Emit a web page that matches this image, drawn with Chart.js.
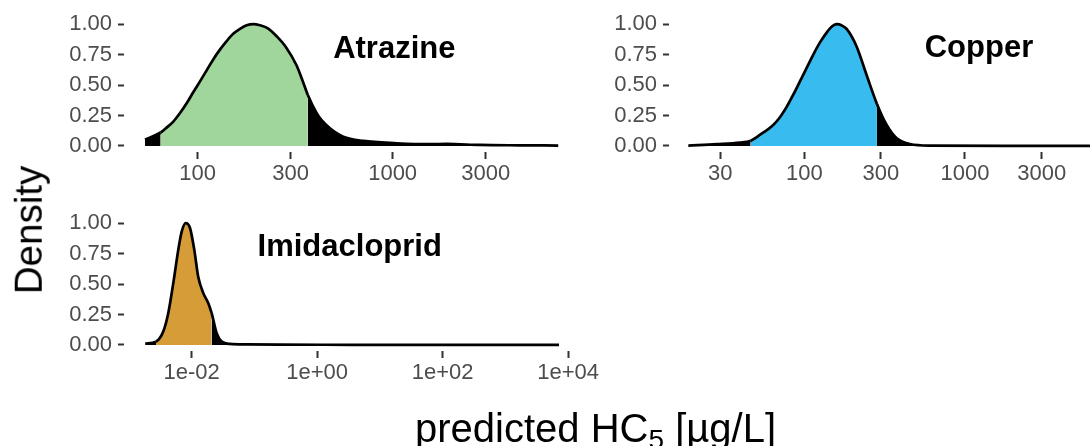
<!DOCTYPE html>
<html>
<head>
<meta charset="utf-8">
<title>predicted HC5 densities</title>
<script src="https://cdn.jsdelivr.net/npm/chart.js@4.4.1/dist/chart.umd.min.js"></script>
<style>
  html, body { margin: 0; padding: 0; background: #fff; overflow: hidden; }
  #wrap { position: relative; width: 1090px; height: 446px; overflow: hidden; }
  #wrap canvas { position: absolute; left: 0; top: 0; }
  .axtitle { position: absolute; font-family: "Liberation Sans", Arial, sans-serif; color: #000; white-space: nowrap; line-height: 1; }
  #ylab { font-size: 38.5px; left: 29px; top: 230px; transform: translate(-50%, -50%) rotate(-90deg); }
  #xlab { font-size: 40px; left: 415px; top: 408px; }
  #xlab sub { font-size: 28px; vertical-align: -0.25em; line-height: 0; }
</style>
</head>
<body>
<div id="wrap">
  <canvas id="atrazine" width="1200" height="446"></canvas>
  <canvas id="copper" width="1200" height="446"></canvas>
  <canvas id="imidacloprid" width="1200" height="446"></canvas>
  <div class="axtitle" id="ylab">Density</div>
  <div class="axtitle" id="xlab">predicted HC<sub>5</sub> [µg/L]</div>
</div>
<script>
// values (x in µg/L, density scaled to max 1)
var atrazineX = [53.7, 64.6, 69.3, 75, 81.2, 87.8, 94.9, 102.8, 111.2, 120.2, 130.1, 140.8, 152.2, 164.8, 178.4, 192.9, 208.7, 229.1, 254.2, 282.7, 320.8, 342.6, 367.4, 407.7, 430.9, 477, 558, 707, 1048, 1554, 1892, 2804, 4497, 7067];
var atrazineDensity = [0.05, 0.11, 0.15, 0.2, 0.27, 0.35, 0.44, 0.53, 0.62, 0.71, 0.79, 0.86, 0.92, 0.96, 0.99, 1.0, 0.99, 0.965, 0.9, 0.814, 0.664, 0.55, 0.418, 0.268, 0.213, 0.145, 0.076, 0.041, 0.022, 0.014, 0.016, 0.008, 0.005, 0.003];
var atrazineBand = [64.6, 367.4];

var copperX = [19, 28.5, 39.8, 46.4, 52.9, 64.1, 70.6, 77.7, 85.4, 94, 103.5, 113.8, 125.3, 137.8, 144.6, 152, 160.4, 170.3, 183.5, 211.9, 244.5, 283.3, 325.6, 376, 455, 606, 1900, 7500];
var copperDensity = [0.003, 0.014, 0.027, 0.043, 0.09, 0.172, 0.235, 0.32, 0.42, 0.53, 0.64, 0.75, 0.85, 0.93, 0.965, 0.99, 1.0, 0.99, 0.96, 0.814, 0.58, 0.345, 0.172, 0.063, 0.016, 0.003, 0.001, 0.0];
var copperBand = [46.4, 283.3];

var imidaX = [0.00182, 0.0027, 0.00352, 0.00423, 0.00509, 0.00611, 0.00693, 0.00802, 0.0094, 0.011, 0.0127, 0.0153, 0.0184, 0.0208, 0.025, 0.0301, 0.0408, 0.075, 0.255, 3.33, 131, 7130];
var imidaDensity = [0.01, 0.027, 0.11, 0.26, 0.507, 0.78, 0.93, 1.0, 0.96, 0.78, 0.56, 0.425, 0.343, 0.26, 0.096, 0.027, 0.008, 0.004, 0.002, 0.001, 0.0005, 0.0005];
var imidaBand = [0.0027, 0.0208];

var yTicks = [0, 0.25, 0.5, 0.75, 1];
var yTickLabels = ['0.00', '0.25', '0.50', '0.75', '1.00'];
var atrazineTicks = [100, 300, 1000, 3000];
var atrazineTickLabels = ['100', '300', '1000', '3000'];
var copperTicks = [30, 100, 300, 1000, 3000];
var copperTickLabels = ['30', '100', '300', '1000', '3000'];
var imidaTicks = [0.01, 1, 100, 10000];
var imidaTickLabels = ['1e-02', '1e+00', '1e+02', '1e+04'];

var FONT = '"Liberation Sans", Arial, sans-serif';
var TICK_GREY = '#4d4d4d';

// panel name drawn in data coordinates
var panelLabel = {
  id: 'panelLabel',
  afterDatasetsDraw: function (chart, args, opts) {
    var ctx = chart.ctx;
    ctx.save();
    ctx.font = 'bold 31px ' + FONT;
    ctx.fillStyle = '#000';
    ctx.textAlign = 'center';
    ctx.textBaseline = 'alphabetic';
    ctx.fillText(opts.text, chart.scales.x.getPixelForValue(opts.x), chart.scales.y.getPixelForValue(opts.y));
    ctx.restore();
  }
};

function makePanel(id, xs, ys, band, color, ticks, tickLabels, xmin, xmax, pad, label) {
  var lo = xs.indexOf(band[0]);
  var hi = xs.indexOf(band[1]);
  var pts = xs.map(function (x, i) { return { x: x, y: ys[i] }; });

  return new Chart(document.getElementById(id), {
    type: 'line',
    data: {
      datasets: [{
        data: pts,
        borderColor: '#000',
        borderWidth: 2.7,
        backgroundColor: '#000',
        pointRadius: 0,
        cubicInterpolationMode: 'monotone',
        fill: 'origin',
        segment: {
          // coloured between the two quantiles, black tails outside
          backgroundColor: function (c) {
            return (c.p0DataIndex >= lo && c.p1DataIndex <= hi) ? color : '#000';
          },
          borderColor: function () { return '#000'; }
        }
      }]
    },
    options: {
      responsive: false,
      animation: false,
      events: [],
      layout: { autoPadding: false, padding: pad },
      plugins: {
        legend: { display: false },
        tooltip: { enabled: false },
        panelLabel: label
      },
      scales: {
        x: {
          type: 'logarithmic',
          min: xmin,
          max: xmax,
          afterBuildTicks: function (s) { s.ticks = ticks.map(function (v) { return { value: v }; }); },
          afterFit: function (s) { s.height = 40; s.paddingLeft = 0; s.paddingRight = 0; },
          border: { display: false },
          grid: { drawOnChartArea: false, tickLength: 7, tickWidth: 2, tickColor: '#333' },
          ticks: {
            autoSkip: false, maxRotation: 0, padding: 2,
            color: TICK_GREY, font: { family: FONT, size: 22 },
            callback: function (v, i) { return tickLabels[i]; }
          }
        },
        y: {
          min: -0.05,
          max: 1.05,
          afterBuildTicks: function (s) { s.ticks = yTicks.map(function (v) { return { value: v }; }); },
          afterFit: function (s) { s.width = 124; s.paddingTop = 0; s.paddingBottom = 0; },
          border: { display: false },
          grid: { drawOnChartArea: false, tickLength: 6, tickWidth: 2, tickColor: '#333' },
          ticks: {
            padding: 6,
            color: TICK_GREY, font: { family: FONT, size: 22 },
            callback: function (v, i) { return yTickLabels[i]; }
          }
        }
      }
    },
    plugins: [panelLabel]
  });
}

makePanel('atrazine', atrazineX, atrazineDensity, atrazineBand, '#a0d69b',
  atrazineTicks, atrazineTickLabels, 41.9, 9140,
  { left: 0, top: 18, right: 620, bottom: 254 },
  { text: 'Atrazine', x: 1020, y: 0.725 });

makePanel('copper', copperX, copperDensity, copperBand, '#38bcf0',
  copperTicks, copperTickLabels, 14.4, 9900,
  { left: 545, top: 18, right: 75, bottom: 254 },
  { text: 'Copper', x: 1222, y: 0.727 });

makePanel('imidacloprid', imidaX, imidaDensity, imidaBand, '#d69c38',
  imidaTicks, imidaTickLabels, 0.000834, 15420,
  { left: 0, top: 217, right: 620, bottom: 55 },
  { text: 'Imidacloprid', x: 3.3, y: 0.73 });
</script>
</body>
</html>
